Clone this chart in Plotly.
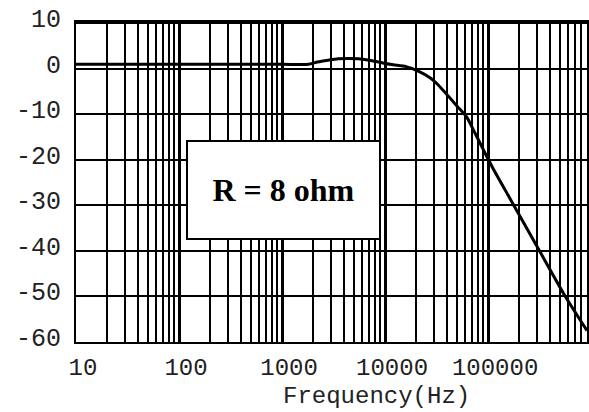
import plotly.graph_objects as go

# Frequency response of the amplifier into an 8 ohm load
freq_hz = [10, 1000, 1800, 2200, 2800, 3500, 5500, 7500, 9500, 12000, 16000,
           21000, 27500, 33000, 51000, 62000, 75000, 94000, 110000, 155000,
           178000, 316000, 562000, 912000]
gain_db = [1.0, 1.0, 1.0, 1.5, 1.9, 2.2, 2.2, 1.8, 1.3, 0.9, 0.5,
           -0.5, -2.0, -3.6, -8.4, -10.6, -14.2, -18.6, -21.6, -27.6,
           -30.0, -40.0, -50.0, -57.5]

x_tick_vals = [10, 100, 1000, 10000, 100000]
x_tick_text = ["10", "100", "1000", "10000", "100000"]
y_tick_vals = [10, 0, -10, -20, -30, -40, -50, -60]
y_tick_text = ["10", "0", "-10", "-20", "-30", "-40", "-50", "-60"]

mono = "Liberation Mono, Courier New, monospace"

fig = go.Figure()
fig.add_trace(go.Scatter(
    x=freq_hz, y=gain_db, mode="lines",
    line=dict(color="black", width=3, shape="spline", smoothing=0.6),
    showlegend=False, hoverinfo="skip",
))

fig.update_xaxes(
    type="log", range=[1, 5.96],
    tickvals=x_tick_vals, ticktext=x_tick_text,
    tickfont=dict(family=mono, size=24, color="#222"),
    ticklabelstandoff=2, ticklabelshift=7,
    showgrid=True, gridcolor="black", gridwidth=2.5,
    minor=dict(dtick="D1", showgrid=True, gridcolor="black", gridwidth=1.5),
    showline=True, linecolor="black", linewidth=2, mirror=True,
    ticks="", zeroline=False,
)
fig.update_yaxes(
    range=[-60, 10.3],
    tickvals=y_tick_vals, ticktext=y_tick_text,
    tickfont=dict(family=mono, size=25, color="#222"),
    ticklabelstandoff=8, ticklabelshift=-5,
    showgrid=True, gridcolor="black", gridwidth=1.5,
    showline=True, linecolor="black", linewidth=2, mirror=True,
    ticks="", zeroline=False,
)

fig.add_annotation(
    text="<b>R = 8 ohm</b>", xref="paper", yref="paper",
    x=0.406, y=0.475, xanchor="center", yanchor="middle",
    showarrow=False,
    font=dict(family="Liberation Serif, Times New Roman, serif", size=32, color="black"),
    bgcolor="white", bordercolor="black", borderwidth=2, borderpad=0,
    width=191, height=96,
)
fig.add_annotation(
    text="Frequency(Hz)", xref="paper", yref="paper",
    x=0.589, y=-0.17, xanchor="center", yanchor="middle",
    showarrow=False,
    font=dict(family=mono, size=24, color="#222"),
)

fig.update_layout(
    width=589, height=412,
    margin=dict(l=76, r=0, t=22, b=70),
    paper_bgcolor="white", plot_bgcolor="white",
)

fig.write_html("out.html")
